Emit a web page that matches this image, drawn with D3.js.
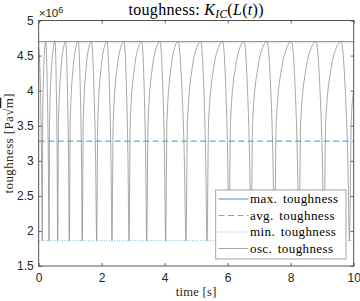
<!DOCTYPE html>
<html><head><meta charset="utf-8">
<script src="https://cdn.jsdelivr.net/npm/d3@7"></script>
<style>body{margin:0;background:#fff}svg{display:block}</style></head>
<body>
<svg id="c" width="360" height="301"></svg>
<script>
// ---- data (toughness in units of 1e6 Pa·√m) ----
const xTicks = [0, 2, 4, 6, 8, 10];
const yTicks = [1.5, 2, 2.5, 3, 3.5, 4, 4.5, 5];
const maxK = 4.70;
const avgK = 3.28;
const minK = 1.86;
const oscTime = [
  0, 0.05, 0.09,
  0.114, 0.125, 0.163, 0.192, 0.222, 0.269, 0.306,
  0.327, 0.346, 0.413, 0.464, 0.517, 0.556, 0.586,
  0.603, 0.628, 0.717, 0.786, 0.857, 0.908, 0.948,
  0.971, 1.000, 1.100, 1.177, 1.257, 1.314, 1.359,
  1.384, 1.413, 1.513, 1.590, 1.670, 1.747, 1.807,
  1.841, 1.874, 1.988, 2.076, 2.168, 2.240, 2.295,
  2.327, 2.365, 2.498, 2.601, 2.708, 2.780, 2.835,
  2.867, 2.907, 3.048, 3.157, 3.270, 3.342, 3.397,
  3.429, 3.471, 3.619, 3.733, 3.851, 3.932, 3.996,
  4.032, 4.071, 4.208, 4.313, 4.422, 4.536, 4.625,
  4.676, 4.723, 4.886, 5.012, 5.143, 5.233, 5.303,
  5.343, 5.393, 5.567, 5.702, 5.841, 5.931, 6.001,
  6.041, 6.089, 6.256, 6.384, 6.518, 6.618, 6.696,
  6.740, 6.791, 6.969, 7.106, 7.248, 7.355, 7.438,
  7.486, 7.540, 7.729, 7.874, 8.025, 8.132, 8.215,
  8.263, 8.317, 8.506, 8.652, 8.803, 8.917, 9.006,
  9.057, 9.111, 9.300, 9.446, 9.597, 9.719, 9.813,
  9.867, 9.922, 10.0
];
const oscK = [
  4.62, 4.13, 3.00,
  1.86, 3.56, 4.36, 4.61, 4.70, 4.13, 3.00,
  1.86, 3.56, 4.36, 4.61, 4.70, 4.13, 3.00,
  1.86, 3.56, 4.36, 4.61, 4.70, 4.13, 3.00,
  1.86, 3.56, 4.36, 4.61, 4.70, 4.13, 3.00,
  1.86, 3.56, 4.36, 4.61, 4.70, 4.13, 3.00,
  1.86, 3.56, 4.36, 4.61, 4.70, 4.13, 3.00,
  1.86, 3.56, 4.36, 4.61, 4.70, 4.13, 3.00,
  1.86, 3.56, 4.36, 4.61, 4.70, 4.13, 3.00,
  1.86, 3.56, 4.36, 4.61, 4.70, 4.13, 3.00,
  1.86, 3.56, 4.36, 4.61, 4.70, 4.13, 3.00,
  1.86, 3.56, 4.36, 4.61, 4.70, 4.13, 3.00,
  1.86, 3.56, 4.36, 4.61, 4.70, 4.13, 3.00,
  1.86, 3.56, 4.36, 4.61, 4.70, 4.13, 3.00,
  1.86, 3.56, 4.36, 4.61, 4.70, 4.13, 3.00,
  1.86, 3.56, 4.36, 4.61, 4.70, 4.13, 3.00,
  1.86, 3.56, 4.36, 4.61, 4.70, 4.13, 3.00,
  1.86, 3.56, 4.36, 4.61, 4.70, 4.13, 3.00,
  1.86, 3.56, 4.00
];
const legendLabels = ["max. toughness", "avg. toughness", "min. toughness", "osc. toughness"];

// ---- drawing ----
const svg = d3.select("#c");
const m = {l: 38.7, r: 353.7, t: 20.5, b: 266};
const x = d3.scaleLinear().domain([0, 10]).range([m.l, m.r]);
const y = d3.scaleLinear().domain([1.5, 5]).range([m.b, m.t]);
const axisColor = "#404040";
const sans = "'Liberation Sans', Arial, sans-serif";
const serif = "'Liberation Serif', 'DejaVu Serif', serif";

svg.append("defs").append("clipPath").attr("id", "clip")
  .append("rect").attr("x", m.l).attr("y", m.t).attr("width", m.r - m.l).attr("height", m.b - m.t);

const plot = svg.append("g").attr("clip-path", "url(#clip)");
const styles = [
  {color: "#6aa9dc", dash: null, width: 1.3},
  {color: "#5aaee0", dash: "6,3.5", width: 1.1},
  {color: "#6ec0ea", dash: "1,1.6", width: 1.0},
  {color: "#8a8a8a", dash: null, width: 0.75}
];
const hvals = [maxK, avgK, minK];
hvals.forEach((v, i) => {
  plot.append("line")
    .attr("x1", x(0)).attr("x2", x(10)).attr("y1", y(v)).attr("y2", y(v))
    .attr("stroke", styles[i].color).attr("stroke-width", styles[i].width)
    .attr("stroke-dasharray", styles[i].dash);
});
const pts = oscTime.map((t, i) => [t, oscK[i]]);
const line = d3.line().x(d => x(d[0])).y(d => y(d[1])).curve(d3.curveMonotoneX);
plot.append("path").datum(pts).attr("d", line)
  .attr("fill", "none").attr("stroke", styles[3].color).attr("stroke-width", styles[3].width);

// axes
function styleAxis(g) {
  g.select(".domain").remove();
  g.selectAll(".tick line").attr("stroke", axisColor).attr("stroke-width", 0.8);
  g.selectAll(".tick text").attr("fill", "#262626").style("font-family", sans).style("font-size", "12px");
}
svg.append("g").attr("transform", `translate(0,${m.b})`)
  .call(d3.axisBottom(x).tickValues(xTicks).tickSizeInner(-3).tickSizeOuter(0).tickPadding(7.5).tickFormat(d3.format("d")))
  .call(styleAxis);
svg.append("g").attr("transform", `translate(0,${m.t})`)
  .call(d3.axisTop(x).tickValues(xTicks).tickSizeInner(-3).tickSizeOuter(0).tickFormat(""))
  .call(styleAxis);
svg.append("g").attr("transform", `translate(${m.l},0)`)
  .call(d3.axisLeft(y).tickValues(yTicks).tickSizeInner(-3).tickSizeOuter(0).tickPadding(5).tickFormat(d3.format("~g")))
  .call(styleAxis);
svg.append("g").attr("transform", `translate(${m.r},0)`)
  .call(d3.axisRight(y).tickValues(yTicks).tickSizeInner(-3).tickSizeOuter(0).tickFormat(""))
  .call(styleAxis);
svg.append("rect").attr("x", m.l).attr("y", m.t).attr("width", m.r - m.l).attr("height", m.b - m.t)
  .attr("fill", "none").attr("stroke", axisColor).attr("stroke-width", 0.9);

// exponent
const ex = svg.append("text").attr("x", m.l).attr("y", 17).attr("fill", "#262626")
  .style("font-family", sans).style("font-size", "11.5px");
ex.append("tspan").text("×10");
ex.append("tspan").attr("dy", -4.5).style("font-size", "9px").text("6");

// title
const tt = svg.append("text").attr("x", (m.l + m.r) / 2).attr("y", 15).attr("text-anchor", "middle")
  .attr("fill", "#000").style("font-family", serif).style("font-size", "16px").style("letter-spacing", "0.3px");
tt.append("tspan").text("toughness: ");
tt.append("tspan").style("font-style", "italic").text("K");
tt.append("tspan").style("font-style", "italic").style("font-size", "11.5px").attr("dy", 3).text("IC");
tt.append("tspan").attr("dy", -3).text("(");
tt.append("tspan").style("font-style", "italic").text("L");
tt.append("tspan").text("(");
tt.append("tspan").style("font-style", "italic").text("t");
tt.append("tspan").text("))");

// axis labels
const yl = svg.append("text").attr("transform", `translate(13,${(m.t + m.b) / 2}) rotate(-90)`)
  .attr("text-anchor", "middle").attr("fill", "#262626")
  .style("font-family", serif).style("font-size", "13px").style("letter-spacing", "0.4px");
yl.append("tspan").text("toughness [Pa√");
yl.append("tspan").style("text-decoration", "overline").text("m");
yl.append("tspan").text("]");
svg.append("text").attr("x", (m.l + m.r) / 2).attr("y", 296).attr("text-anchor", "middle")
  .attr("fill", "#262626").style("font-family", serif).style("font-size", "12.5px")
  .style("letter-spacing", "0.3px").text("time [s]");

// legend
const lg = svg.append("g");
lg.append("rect").attr("x", 215.7).attr("y", 190).attr("width", 130.3).attr("height", 69)
  .attr("fill", "#fff").attr("stroke", "#9a9a9a").attr("stroke-width", 0.9);
legendLabels.forEach((lab, i) => {
  const cy = 199 + i * 16.5;
  lg.append("line").attr("x1", 218.5).attr("x2", 248.5).attr("y1", cy).attr("y2", cy)
    .attr("stroke", styles[i].color).attr("stroke-width", styles[i].width)
    .attr("stroke-dasharray", styles[i].dash);
  lg.append("text").attr("x", 250).attr("y", cy + 4).attr("fill", "#000")
    .style("font-family", serif).style("font-size", "13px").style("letter-spacing", "0.4px")
    .style("word-spacing", "2px").text(lab);
});
</script>
</body></html>
